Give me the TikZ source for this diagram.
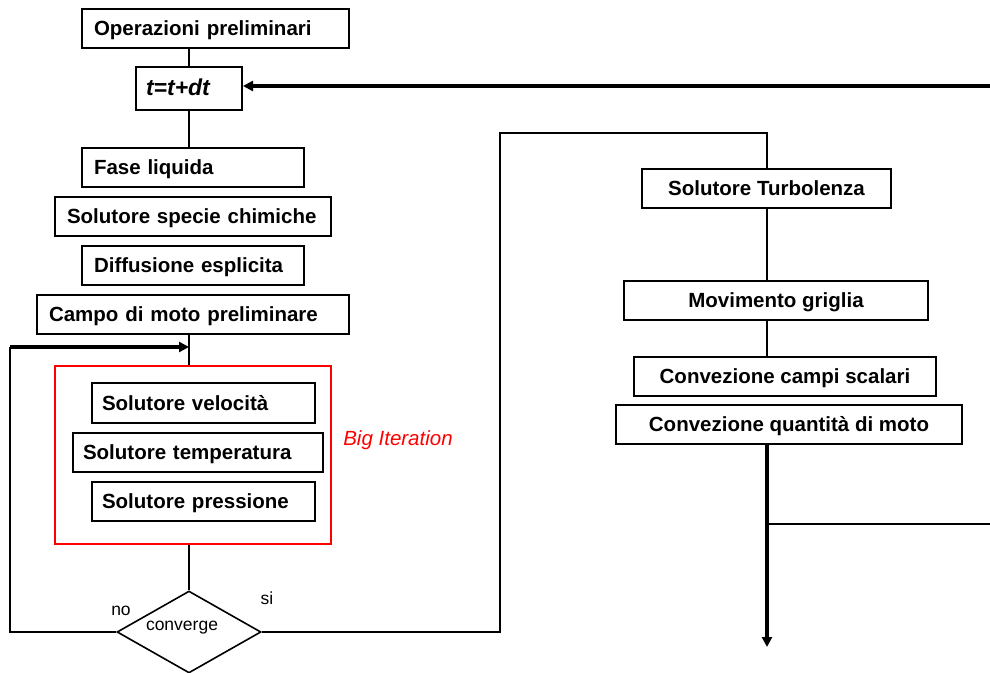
\documentclass[tikz,border=0pt]{standalone}
\usepackage{fontspec}
\setmainfont{Liberation Sans}
\usetikzlibrary{positioning,shapes.geometric,arrows.meta}
\tikzset{
  box/.style={draw, line width=1pt, font=\fontsize{10.25}{12}\selectfont\bfseries, minimum height=19.5pt, inner ysep=0pt, text height=0.7em, text depth=0pt},
  lbox/.style={box, align=left, inner xsep=6pt, text width=#1},
  cbox/.style={box, minimum width=#1},
  line/.style={line width=0.8pt},
  flow/.style={line width=1.6pt, -{Triangle[length=5pt,width=5pt]}},
  small/.style={font=\fontsize{8.75}{10}\selectfont}
}
\begin{document}
\begin{tikzpicture}[x=0.5pt,y=-0.5pt,node distance=4pt]
  \useasboundingbox (0,0) rectangle (990,673);
  \node[lbox=121.5pt] (oper) at (215.5,28.5) {Operazioni preliminari};
  \node[lbox=43pt, inner xsep=5pt, minimum height=21.5pt, font=\fontsize{11.5}{13}\selectfont\bfseries\itshape] (tstep) at (189,88.5) {t=t+dt};
  \node[lbox=99pt] (fase) at (193,168) {Fase liquida};
  \node[lbox=126pt] (specie) [below = of fase] {Solutore specie chimiche};
  \node[lbox=99pt] (diff) [below = of specie] {Diffusione esplicita};
  \node[lbox=144pt] (campo) [below = of diff] {Campo di moto preliminare};
  \node[draw=red, line width=0.8pt, minimum width=138pt, minimum height=89pt] (iter) at (193,455) {};
  \node[lbox=101.5pt, inner xsep=5pt] (vel) at (203.5,403) {Solutore velocità};
  \node[lbox=115pt, inner xsep=5pt] (temp) [below = of vel, xshift=-2.75pt] {Solutore temperatura};
  \node[lbox=101.5pt, inner xsep=5pt] (pres) [below = of temp, xshift=2.75pt] {Solutore pressione};
  \node[red, font=\fontsize{10.25}{12}\selectfont\itshape] (bigit) at (398,440) {Big Iteration};
  \node[diamond, draw, line width=0.8pt, minimum width=72pt, minimum height=41pt, inner sep=0pt] (conv) at (189,632) {};
  \node[small] (convtext) at (182,628) {converge};
  \node[small] (no) at (121,611) {no};
  \node[small] (si) at (267,598) {si};
  \node[cbox=124.5pt] (turb) at (766.5,189) {Solutore Turbolenza};
  \node[cbox=152pt] (grid) at (776,300.5) {Movimento griglia};
  \node[cbox=151pt] (scal) at (785,376.5) {Convezione campi scalari};
  \node[cbox=173pt] (qmoto) [below = 3.5pt of scal, xshift=2pt] {Convezione quantità di moto};
  \coordinate (lp) at (10,347);
  \coordinate (up) at (500,133);
  \coordinate (endp) at (767,647);
  \coordinate (rt) at (990,524);
  \coordinate (back) at (990,86);
  \draw[line] (tstep.north) -- (tstep.north |- oper.south);
  \draw[line] (tstep.south) -- (tstep.south |- fase.north);
  \draw[line] (tstep |- campo.south) -- (tstep |- iter.north);
  \draw[line] (tstep |- iter.south) -- (conv.north);
  \draw[line] (conv.west) -| (lp);
  \draw[flow] (lp) -- (lp -| tstep);
  \draw[line] (conv.east) -| (up) -| (endp |- turb.north);
  \draw[line] (endp |- turb.south) -- (endp |- grid.north);
  \draw[line] (endp |- grid.south) -- (endp |- scal.north);
  \draw[flow] (endp |- qmoto.south) -- (endp);
  \draw[line] (rt -| endp) -- (rt);
  \draw[flow] (back) -- (back -| tstep.east);
\end{tikzpicture}
\end{document}
